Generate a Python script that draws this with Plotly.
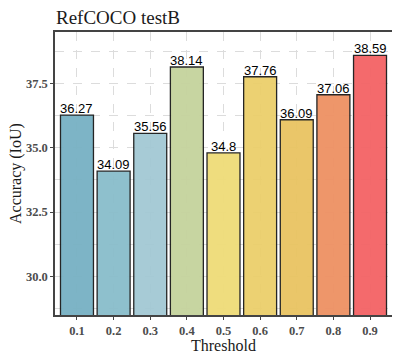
import plotly.graph_objects as go

thresholds = ["0.1", "0.2", "0.3", "0.4", "0.5", "0.6", "0.7", "0.8", "0.9"]
accuracy = [36.27, 34.09, 35.56, 38.14, 34.8, 37.76, 36.09, 37.06, 38.59]
labels = ["36.27", "34.09", "35.56", "38.14", "34.8", "37.76", "36.09", "37.06", "38.59"]
colors = ["#77b1c3", "#89bdcb", "#a3c9d4", "#c5d39d", "#efdc78", "#ebcf6b", "#e9c461",
          "#ee9163", "#f46365"]
y_ticks = [30.0, 32.5, 35.0, 37.5]

SERIF = "Liberation Serif, Times New Roman, serif"
OFF = 8  # default page body margin shifts the figure
W, H = 400, 359
L, R, T, B = 55 - OFF, 8 + OFF, 32 - OFF, 44 + OFF
PW, PH = W - L - R, H - T - B

fig = go.Figure()
fig.add_trace(go.Bar(
    x=thresholds, y=accuracy, width=0.9,
    marker=dict(color=colors, opacity=0.95, line=dict(color="#1a1a1a", width=1.3)),
))

for i, (yv, lab) in enumerate(zip(accuracy, labels)):
    fig.add_annotation(x=i, y=yv, text=lab, showarrow=False, xanchor="center",
                       yanchor="bottom", yshift=-3,
                       font=dict(family="Liberation Sans, Arial", size=13, color="black"))

axis_common = dict(showline=True, linecolor="#444444", linewidth=1.5, mirror=True,
                   ticks="outside", ticklen=3, tickcolor="#444444", tickwidth=1,
                   gridcolor="#dcdcdc", griddash="dash", gridwidth=1, zeroline=False,
                   automargin=False,
                   tickfont=dict(family=SERIF, size=12.5, color="#4d4d4d", weight="bold"))

fig.add_annotation(xref="paper", yref="paper", x=(15.5 - 55) / PW, y=0.5, text="Accuracy (IoU)",
                   textangle=-90, showarrow=False, xanchor="center", yanchor="middle",
                   font=dict(family=SERIF, size=16, color="#1a1a1a"))
fig.add_annotation(xref="paper", yref="paper", x=0.5, y=-(345 - 315) / PH, text="Threshold",
                   showarrow=False, xanchor="center", yanchor="middle",
                   font=dict(family=SERIF, size=16, color="#1a1a1a"))
fig.add_annotation(xref="paper", yref="paper", x=0, y=1 + (32 - 17) / PH, text="RefCOCO testB",
                   showarrow=False, xanchor="left", yanchor="middle", xshift=-1,
                   font=dict(family=SERIF, size=19, color="#1a1a1a"))

fig.update_layout(
    width=W, height=H,
    margin=dict(l=L, r=R, t=T, b=B, autoexpand=False),
    paper_bgcolor="white", plot_bgcolor="white",
    showlegend=False,
    xaxis=dict(axis_common, type="category", range=[-0.6, 8.6], showgrid=True),
    yaxis=dict(axis_common, range=[28.5, 39.5], tickvals=y_ticks, tickformat=".1f", showgrid=True,
               minor=dict(showgrid=True, gridcolor="#dcdcdc", griddash="dash", dtick=1.25, tick0=28.75)),
    bargap=0.1,
)

fig.write_html("out.html")
